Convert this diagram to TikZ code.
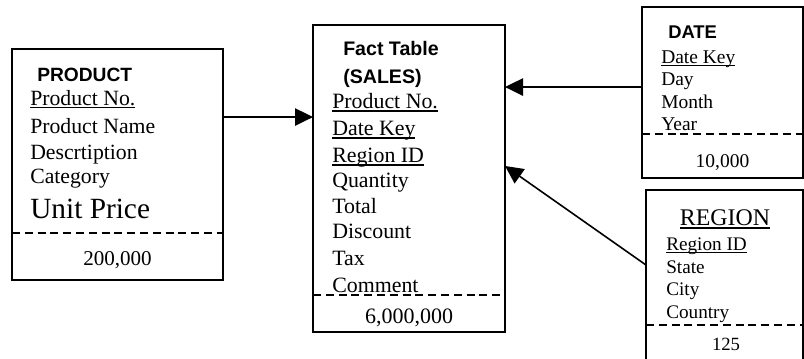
\documentclass[tikz,border=0pt]{standalone}
\usepackage{fontspec}
\setmainfont{Liberation Serif}
\newfontfamily\hdrfont{Liberation Sans}
\usetikzlibrary{arrows.meta}
\newsavebox\undlbox
\newcommand\undl[1]{\sbox\undlbox{#1}\rlap{\rule[-0.16em]{\wd\undlbox}{0.06em}}\usebox\undlbox}
\tikzset{
  tbox/.style={draw, line width=1.3pt, inner sep=0pt, outer sep=0pt, anchor=north west},
  txt/.style={inner sep=0pt, anchor=base west},
  num/.style={inner sep=0pt, anchor=base},
  dline/.style={line width=1.2pt, dash pattern=on 6pt off 3.6pt},
  arr/.style={line width=1.2pt, -{Triangle[length=13.5pt,width=13pt]}},
}
\begin{document}
\begin{tikzpicture}[x=0.75pt,y=-0.75pt]
\useasboundingbox (0,0) rectangle (804,358);
\clip (0,0) rectangle (804,358);
% boxes
\node[tbox, minimum width=158.25pt, minimum height=173.25pt] (product) at (12,49) {};
\node[tbox, minimum width=144pt, minimum height=230.25pt] (fact) at (313,25) {};
\node[tbox, minimum width=120.75pt, minimum height=128.25pt] (date) at (642,7) {};
\node[tbox, minimum width=117.75pt, minimum height=136.5pt] (region) at (646,190) {};
% dashed separators
\draw[dline] (12,233) -- (223,233);
\draw[dline] (313,295) -- (505,295);
\draw[dline] (642,134) -- (803,134);
\draw[dline] (646,325) -- (803,325);
% PRODUCT texts
\node[txt, font=\hdrfont\bfseries\fontsize{14.4pt}{16pt}\selectfont] (pt) at (37,81) {PRODUCT};
\node[txt, font=\fontsize{16.3pt}{18pt}\selectfont] (p1) at (30,105) {\undl{Product No.}};
\node[txt, font=\fontsize{16.3pt}{18pt}\selectfont] (p2) at (30,133) {Product Name};
\node[txt, font=\fontsize{16.3pt}{18pt}\selectfont] (p3) at (30,159) {Descrtiption};
\node[txt, font=\fontsize{16.3pt}{18pt}\selectfont] (p4) at (30,183) {Category};
\node[txt, font=\fontsize{22pt}{24pt}\selectfont] (p5) at (30,218) {Unit Price};
\node[num, font=\fontsize{15.8pt}{18pt}\selectfont] (pn) at (117.5,265) {200,000};
% FACT texts
\node[txt, font=\hdrfont\bfseries\fontsize{14.7pt}{16pt}\selectfont] (ft1) at (343,55) {Fact Table};
\node[txt, font=\hdrfont\bfseries\fontsize{14.7pt}{16pt}\selectfont] (ft2) at (343,83) {(SALES)};
\node[txt, font=\fontsize{16.4pt}{18pt}\selectfont] (f1) at (332,108) {\undl{Product No.}};
\node[txt, font=\fontsize{16.4pt}{18pt}\selectfont] (f2) at (332,135) {\undl{Date Key}};
\node[txt, font=\fontsize{16.4pt}{18pt}\selectfont] (f3) at (332,162) {\undl{Region ID}};
\node[txt, font=\fontsize{16.4pt}{18pt}\selectfont] (f4) at (332,187) {Quantity};
\node[txt, font=\fontsize{16.4pt}{18pt}\selectfont] (f5) at (332,213) {Total};
\node[txt, font=\fontsize{16.4pt}{18pt}\selectfont] (f6) at (332,238) {Discount};
\node[txt, font=\fontsize{16.4pt}{18pt}\selectfont] (f7) at (332,265) {Tax};
\node[txt, font=\fontsize{16.4pt}{18pt}\selectfont] (f8) at (332,292) {Comment};
\node[num, font=\fontsize{16.5pt}{18pt}\selectfont] (fn) at (409,323) {6,000,000};
% DATE texts
\node[txt, font=\hdrfont\bfseries\fontsize{13.8pt}{16pt}\selectfont] (dt) at (668,38) {DATE};
\node[txt, font=\fontsize{14.6pt}{16pt}\selectfont] (d1) at (661,63) {\undl{Date Key}};
\node[txt, font=\fontsize{14.6pt}{16pt}\selectfont] (d2) at (661,85) {Day};
\node[txt, font=\fontsize{14.6pt}{16pt}\selectfont] (d3) at (661,108) {Month};
\node[txt, font=\fontsize{14.6pt}{16pt}\selectfont] (d4) at (661,130) {Year};
\node[num, font=\fontsize{14.6pt}{16pt}\selectfont] (dn) at (722.5,167) {10,000};
% REGION texts
\node[num, font=\fontsize{17.9pt}{20pt}\selectfont] (rt) at (725,225) {\undl{REGION}};
\node[txt, font=\fontsize{14.4pt}{16pt}\selectfont] (r1) at (666,250) {\undl{Region ID}};
\node[txt, font=\fontsize{14.4pt}{16pt}\selectfont] (r2) at (666,273) {State};
\node[txt, font=\fontsize{14.4pt}{16pt}\selectfont] (r3) at (666,295) {City};
\node[txt, font=\fontsize{14.4pt}{16pt}\selectfont] (r4) at (666,318) {Country};
\node[num, font=\fontsize{14pt}{16pt}\selectfont] (rn) at (726,350) {125};
% connectors
\draw[arr] ([yshift=35.6pt]product.east) -- ([yshift=46.1pt]fact.west);
\draw[arr] ([yshift=4.1pt]date.west) -- ([yshift=68.6pt]fact.east);
\draw[arr] ([yshift=12pt]region.west) -- ([yshift=9.4pt]fact.east);
\end{tikzpicture}
\end{document}
